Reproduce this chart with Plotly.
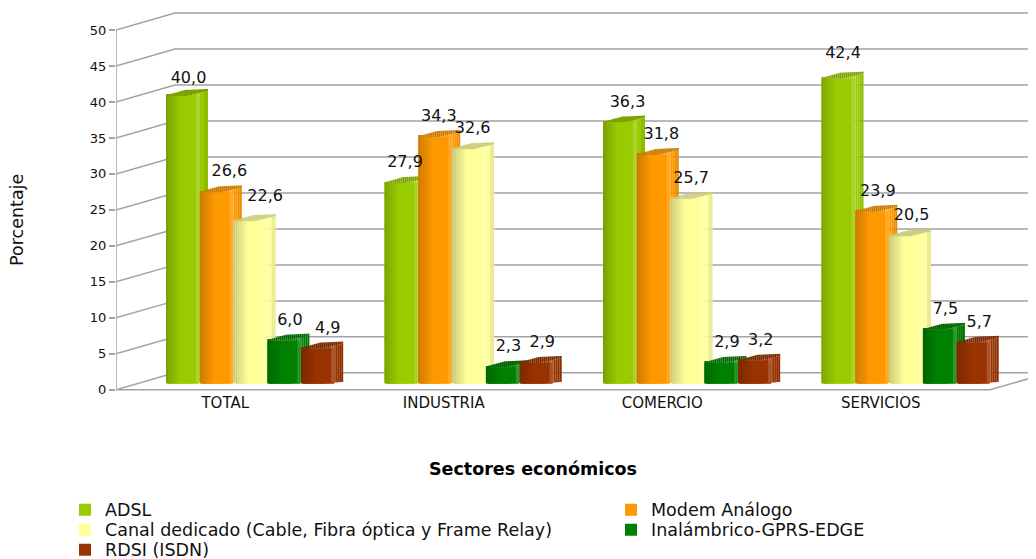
import plotly.graph_objects as go

categories = ["TOTAL", "INDUSTRIA", "COMERCIO", "SERVICIOS"]
adsl = [40.0, 27.9, 36.3, 42.4]
modem = [26.6, 34.3, 31.8, 23.9]
canal = [22.6, 32.6, 25.7, 20.5]
inalambrico = [6.0, 2.3, 2.9, 7.5]
rdsi = [4.9, 2.9, 3.2, 5.7]
y_ticks = [0, 5, 10, 15, 20, 25, 30, 35, 40, 45, 50]

series = [
    ("ADSL", adsl, (153, 204, 0)),
    ("Modem Análogo", modem, (255, 153, 0)),
    ("Canal dedicado (Cable, Fibra óptica y Frame Relay)", canal, (255, 255, 153)),
    ("Inalámbrico-GPRS-EDGE", inalambrico, (0, 128, 0)),
    ("RDSI (ISDN)", rdsi, (153, 51, 0)),
]

FONT = "DejaVu Sans"
PAGE = 8                 # default page margin around the figure
W, H = 1036 - PAGE, 559
L = 116 - PAGE
CAT_PX = 218.5           # px per category
UNIT_PX = 7.2            # px per percent
X_MAX = (W - L) / CAT_PX
Y_MIN, Y_MAX = -0.3, (390 - PAGE) / UNIT_PX
PLOT_H = (Y_MAX - Y_MIN) * UNIT_PX
px = 1 / CAT_PX
py = 1 / UNIT_PX

GROUP_START = 50 * px
BAR_STEP = 33.8 * px
BAR_W = 33 * px
BASE = 6 * py
STRIP = 2
N_STRIPS = 21


def page_x(p):
    return (p - PAGE - L) / (W - L)


def page_y(p):
    return 1 - (p - PAGE) / PLOT_H


def shade(rgb, k):
    if k <= 1:
        c = [v * k for v in rgb]
    else:
        c = [v + (255 - v) * (k - 1) for v in rgb]
    return "rgb(%d,%d,%d)" % tuple(round(v) for v in c)


def col_factor(c):
    if c < 14:
        return 0.8 + 0.2 * c / 14
    if c < 30:
        return 1.0
    if c < 34:
        return 1.18
    if c < 38:
        return 1.0
    return 0.92


def front_edge(c):
    return 0 if c <= 20 else (c - 20) * 5 / 21


def back_edge(c):
    if c <= 18:
        return 1 + c * 5 / 18
    return 6 + (c - 18) * 1 / 22


def bottom_edge(c):
    if c <= 1:
        return 1
    return 0 if c <= 20 else (c - 20) * 2 / 21


fig = go.Figure()
legend_ids = ["legend", "legend2", "legend3", "legend4", "legend5"]

for s, (name, vals, rgb) in enumerate(series):
    lefts = [i + GROUP_START + s * BAR_STEP for i in range(len(categories))]
    fig.add_trace(go.Bar(
        x=[v + BAR_W / 2 for v in lefts], y=vals, base=BASE, width=BAR_W,
        name=name, legend=legend_ids[s], marker=dict(color=shade(rgb, 1), line=dict(width=0)),
        hovertemplate="%{y:.1f}<extra>" + name + "</extra>",
    ))
    xs, bases, heights, colors = [], [], [], []
    for left, v in zip(lefts, vals):
        for j in range(N_STRIPS):
            c = j * STRIP
            xc = left + (c + STRIP / 2) * px
            b0 = BASE + bottom_edge(c) * py
            t0 = BASE + v + front_edge(c) * py
            t1 = BASE + v + max(back_edge(c), front_edge(c)) * py
            xs += [xc, xc]
            bases += [b0, t0]
            heights += [t0 - b0, t1 - t0]
            colors += [shade(rgb, col_factor(c)), shade(rgb, 0.8)]
    fig.add_trace(go.Bar(
        x=xs, y=heights, base=bases, width=STRIP * px, showlegend=False, hoverinfo="skip",
        marker=dict(color=colors, line=dict(width=0)),
    ))

# value labels: small pixel nudges per (series, category), reference placement is uneven
NUDGE = {(0, 0): (0, 3), (1, 0): (7, 0), (2, 0): (9, -4), (4, 0): (4, 0),
         (0, 1): (-2, 0), (1, 1): (-2, 0), (2, 1): (-2, 0), (0, 2): (2, 0), (1, 2): (2, 0),
         (2, 2): (-2, 0), (0, 3): (-1, -5)}
for s, (name, vals, rgb) in enumerate(series):
    lx, ly = [], []
    for i, v in enumerate(vals):
        nx, ny = NUDGE.get((s, i), (0, 0))
        lx.append(i + GROUP_START + s * BAR_STEP + BAR_W / 2 + (6 + nx) * px)
        ly.append(v + BASE + (20 - ny) * py)
    fig.add_trace(go.Scatter(
        x=lx, y=ly,
        text=[f"{v:.1f}".replace(".", ",") for v in vals],
        mode="text", textposition="middle center", showlegend=False, hoverinfo="skip",
        textfont=dict(family=FONT, size=16, color="#111111"),
    ))

GRID = "#a3a3a3"
DX, DY = 59 * px, 17 * py
shapes = []
for t in y_ticks:
    shapes.append(dict(
        type="path", layer="below", xref="x", yref="y",
        path=f"M0,{t} L{DX},{t + DY} L{X_MAX},{t + DY}",
        line=dict(color=GRID, width=1.5),
    ))
# floor and y axis
floor_end = 4.0
shapes.append(dict(type="path", layer="below", xref="x", yref="y",
                   path=f"M0,0 L{floor_end},0 L{floor_end + DX},{DY}",
                   line=dict(color=GRID, width=1.5)))
shapes.append(dict(type="line", layer="below", xref="x", yref="y", x0=0, x1=0, y0=0, y1=50,
                   line=dict(color=GRID, width=1.5)))

annotations = [
    dict(text="Porcentaje", xref="paper", yref="paper", textangle=-90, showarrow=False,
         x=page_x(17), y=page_y(220), xanchor="center", yanchor="middle",
         font=dict(family=FONT, size=17.5, color="#111111")),
    dict(text="<b>Sectores económicos</b>", xref="paper", yref="paper", showarrow=False,
         x=page_x(533), y=page_y(469), xanchor="center", yanchor="middle",
         font=dict(family=FONT, size=17.5, color="#000000")),
]

LEG_FONT = dict(family=FONT, size=17.5, color="#111111")
legend_place = [(65, 510), (611, 510), (65, 530), (611, 530), (65, 550)]
legends = {
    lid: dict(x=page_x(lx), y=page_y(ly), xanchor="left", yanchor="middle",
              orientation="v", font=LEG_FONT, bgcolor="rgba(0,0,0,0)")
    for lid, (lx, ly) in zip(legend_ids, legend_place)
}

fig.update_layout(
    width=W, height=H, autosize=False,
    margin=dict(l=L, r=0, t=0, b=H - PLOT_H, pad=0, autoexpand=False),
    paper_bgcolor="white", plot_bgcolor="white",
    barmode="overlay", shapes=shapes, annotations=annotations,
    xaxis=dict(range=[0, X_MAX], tickmode="array", tickvals=[0.5, 1.5, 2.5, 3.5],
               ticktext=categories, showgrid=False, zeroline=False, showline=False, ticks="",
               tickfont=dict(family=FONT, size=15, color="#111111")),
    yaxis=dict(range=[Y_MIN, Y_MAX], tickmode="array", tickvals=y_ticks, showgrid=False,
               zeroline=False, showline=False, ticks="outside", ticklen=6, tickwidth=1.5,
               tickcolor=GRID, tickfont=dict(family=FONT, size=13, color="#111111")),
    **legends,
)

fig.write_html("out.html")
